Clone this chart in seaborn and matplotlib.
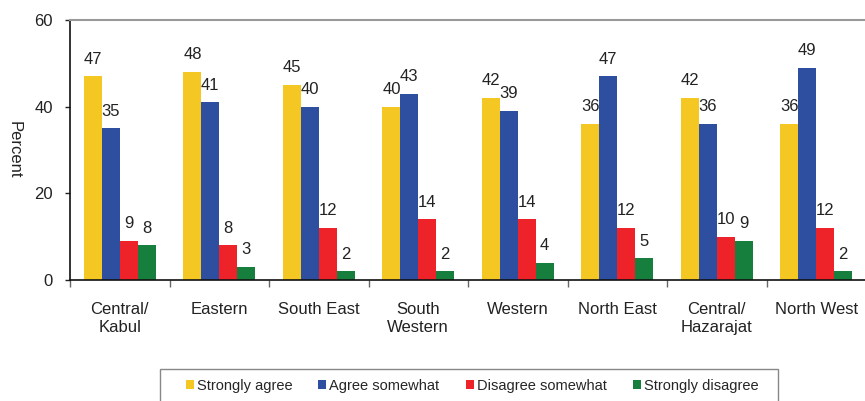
import matplotlib
matplotlib.use("Agg")
import matplotlib.pyplot as plt
import seaborn as sns
import pandas as pd
import numpy as np
from matplotlib.patches import Patch, Rectangle

regions = ["Central/\nKabul", "Eastern", "South East", "South\nWestern", "Western",
           "North East", "Central/\nHazarajat", "North West"]
series = ["Strongly agree", "Agree somewhat", "Disagree somewhat", "Strongly disagree"]
strongly_agree = [47, 48, 45, 40, 42, 36, 42, 36]
agree_somewhat = [35, 41, 40, 43, 39, 47, 36, 49]
disagree_somewhat = [9, 8, 12, 14, 14, 12, 10, 12]
strongly_disagree = [8, 3, 2, 2, 4, 5, 9, 2]
colors = ["#F5C723", "#2E4FA0", "#EE2229", "#177F3D"]
yticks = [0, 20, 40, 60]

values = [strongly_agree, agree_somewhat, disagree_somewhat, strongly_disagree]
rows = []
for s, vals in zip(series, values):
    for r, v in zip(regions, vals):
        rows.append({"Region": r, "Response": s, "Percent": v})
df = pd.DataFrame(rows)

sns.set_style("white")
plt.rcParams["font.family"] = ["Liberation Sans", "DejaVu Sans"]

W, H = 865, 401
fig = plt.figure(figsize=(W / 100, H / 100), dpi=100)
ax = fig.add_axes([70 / W, 1 - 280 / H, (866 - 70) / W, (280 - 20) / H])

sns.barplot(data=df, x="Region", y="Percent", hue="Response", order=regions,
            hue_order=series, palette=colors, width=0.72, saturation=1,
            ax=ax, legend=False, linewidth=0)

for cont in ax.containers:
    ax.bar_label(cont, fmt="%d", padding=7, fontsize=12, color="#222222")

ax.set_xlim(-0.5, len(regions) - 0.5)
ax.set_ylim(0, 60)
ax.set_yticks(yticks)
ax.set_xlabel("")
ax.set_ylabel("Percent", rotation=270, fontsize=12, color="#222222")
ax.yaxis.set_label_coords(-0.079, 0.5)

ax.tick_params(axis="y", which="major", direction="out", length=3.5, width=1,
               pad=9, labelsize=12, colors="#222222", left=True)
ax.tick_params(axis="x", which="major", length=0, pad=16, labelsize=12, colors="#222222")
ax.set_xticks(np.arange(-0.5, len(regions)), minor=True)
ax.tick_params(axis="x", which="minor", direction="out", length=5, width=1,
               color="#666666", bottom=True)

for side in ["left", "bottom"]:
    ax.spines[side].set_color("#111111")
    ax.spines[side].set_linewidth(1.2)
ax.spines["top"].set_color("#999999")
ax.spines["top"].set_linewidth(1.5)
ax.spines["right"].set_visible(False)

# legend frame
fig.patches.append(Rectangle((160 / W, -0.05), (778 - 160) / W, (1 - 369 / H) + 0.05,
                             transform=fig.transFigure, facecolor="none",
                             edgecolor="#888888", linewidth=1))
handles = [Patch(facecolor=c, edgecolor="none") for c in colors]
leg = fig.legend(handles, series, loc="center", ncol=4,
                 bbox_to_anchor=(472 / W, 1 - 386 / H), fontsize=10.5,
                 frameon=False, handlelength=0.55, handleheight=0.55,
                 handletextpad=0.2, columnspacing=1.8, borderpad=0, borderaxespad=0)

fig.savefig("out.png", dpi=100)
